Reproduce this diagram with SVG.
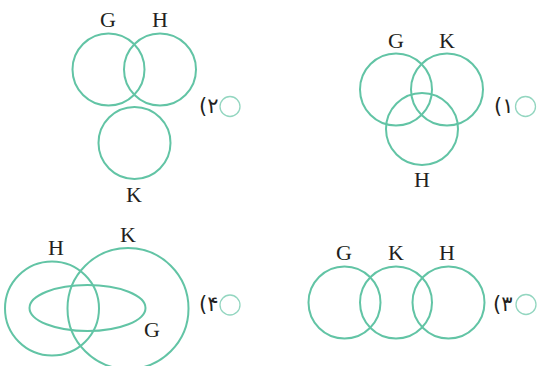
<svg xmlns="http://www.w3.org/2000/svg" width="538" height="366" viewBox="0 0 538 366">
<style>
.c{fill:none;stroke:#62c4a5;stroke-width:2}
.o{fill:none;stroke:#93d6c0;stroke-width:1.3}
.l{font-family:"Liberation Serif","Times New Roman",serif;font-size:22px;fill:#231f20;text-anchor:middle}
.n{font-family:"DejaVu Sans","Noto Sans",sans-serif;font-size:21px;fill:#231f20}
</style>
<rect width="538" height="366" fill="#ffffff"/>
<g id="opt2">
<circle class="c" cx="108.5" cy="69.5" r="36"/>
<circle class="c" cx="160" cy="69.5" r="36"/>
<circle class="c" cx="134.5" cy="143" r="36"/>
<text class="l" x="108" y="27">G</text>
<text class="l" x="160" y="27">H</text>
<text class="l" x="134" y="201.5">K</text>
<circle class="o" cx="230" cy="106.5" r="10"/>
<text class="n" x="199" y="113">(۲</text>
</g>
<g id="opt1">
<circle class="c" cx="396" cy="89.5" r="36"/>
<circle class="c" cx="447" cy="89.5" r="36"/>
<circle class="c" cx="422" cy="129" r="36"/>
<text class="l" x="396" y="48">G</text>
<text class="l" x="447" y="48">K</text>
<text class="l" x="422" y="187">H</text>
<circle class="o" cx="525.5" cy="106.5" r="10"/>
<text class="n" x="494" y="113">(۱</text>
</g>
<g id="opt4">
<circle class="c" cx="52" cy="308.5" r="47"/>
<circle class="c" cx="128" cy="308.5" r="60.5"/>
<ellipse class="c" cx="87.5" cy="308" rx="58" ry="23"/>
<text class="l" x="56" y="255">H</text>
<text class="l" x="128" y="242">K</text>
<text class="l" x="152" y="337">G</text>
<circle class="o" cx="230" cy="305" r="10"/>
<text class="n" x="199" y="311">(۴</text>
</g>
<g id="opt3">
<circle class="c" cx="344.5" cy="302.5" r="36"/>
<circle class="c" cx="396" cy="302.5" r="36"/>
<circle class="c" cx="448.5" cy="302.5" r="36"/>
<text class="l" x="344" y="260">G</text>
<text class="l" x="396" y="260">K</text>
<text class="l" x="447" y="260">H</text>
<circle class="o" cx="526" cy="304.5" r="10"/>
<text class="n" x="493" y="311">(۳</text>
</g>
</svg>
